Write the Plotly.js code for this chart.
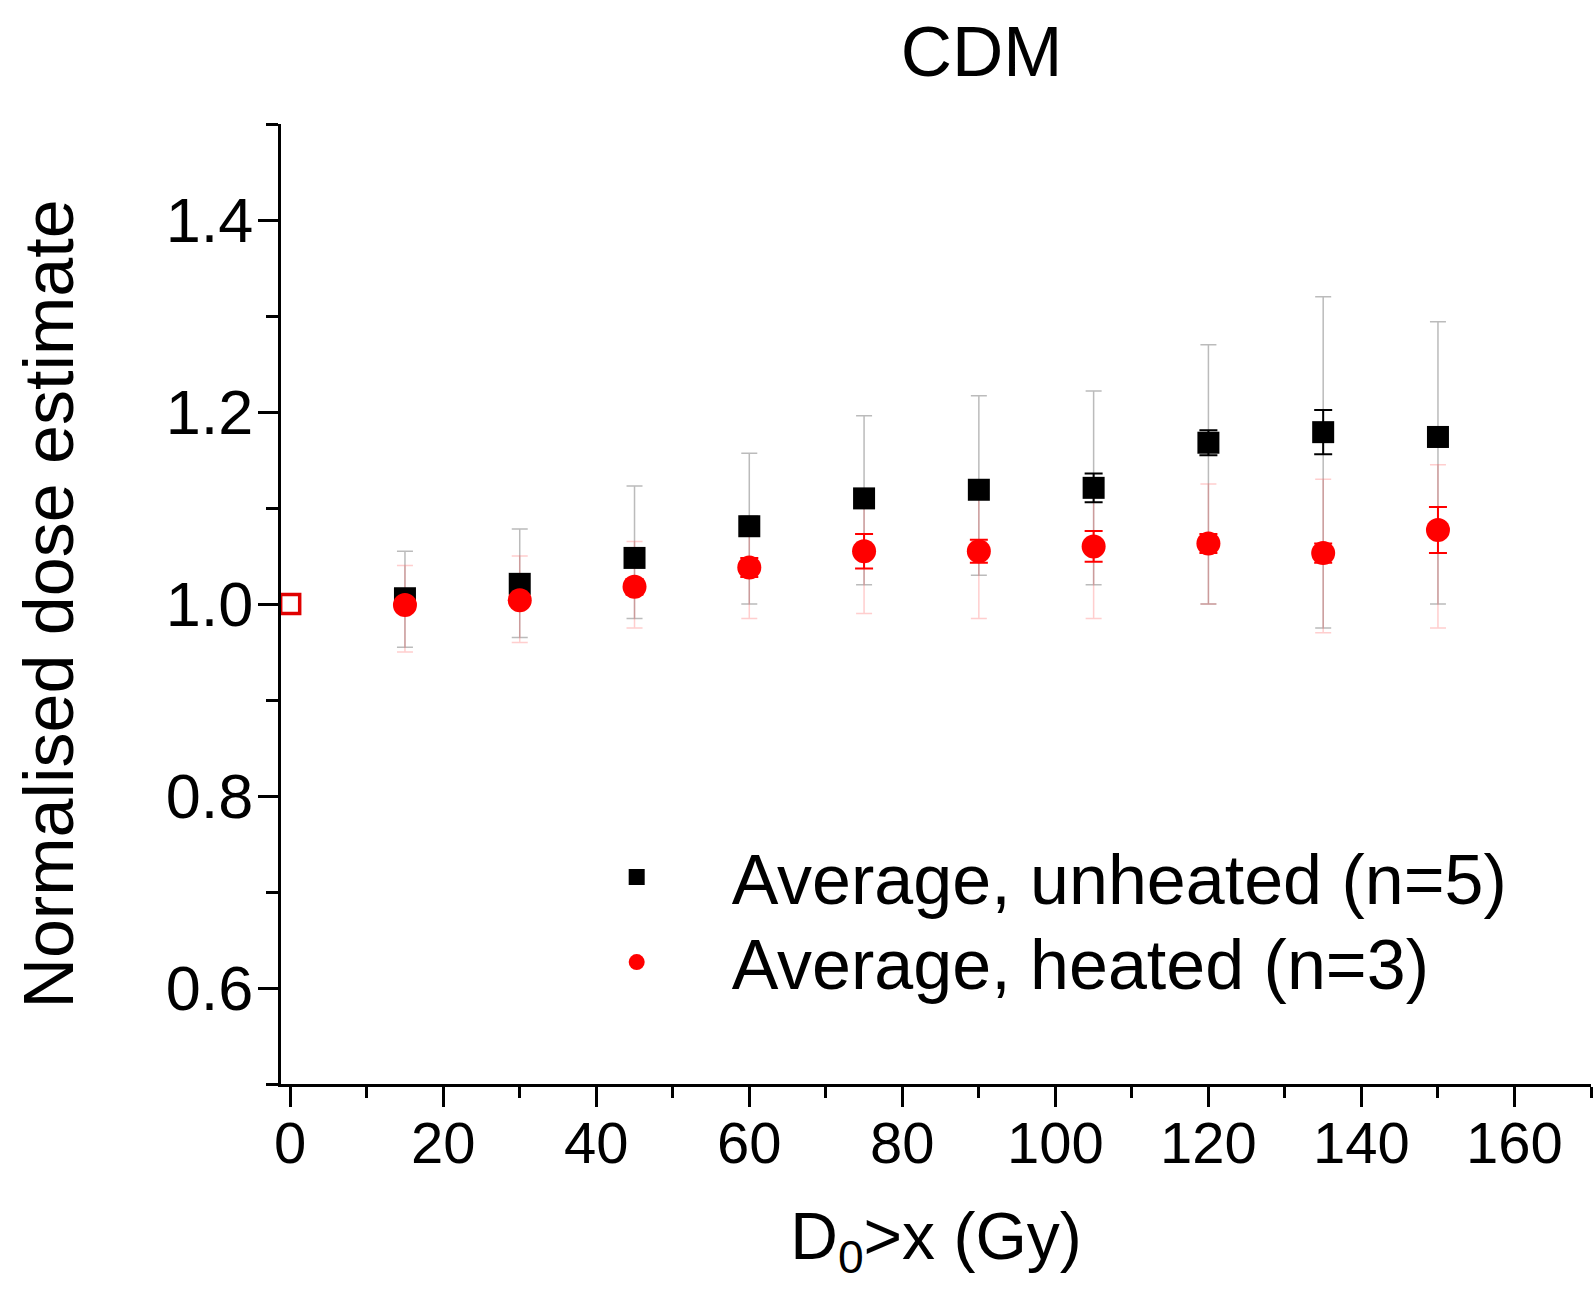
<!DOCTYPE html>
<html>
<head>
<meta charset="utf-8">
<script src="https://cdn.plot.ly/plotly-3.0.1.min.js"></script>
<style>html,body{margin:0;padding:0;background:#fff;}#chart{width:1596px;height:1299px;}</style>
</head>
<body>
<div id="chart"></div>
<script>
// Data
const dose = [15, 30, 45, 60, 75, 90, 105, 120, 135, 150];
const unheatedMean = [1.006, 1.021, 1.048, 1.081, 1.110, 1.119, 1.121, 1.168, 1.179, 1.174];
const unheatedErr  = [0.005, 0.006, 0.008, 0.010, 0.008, 0.008, 0.015, 0.013, 0.023, 0.010];
const unheatedHi   = [1.055, 1.078, 1.123, 1.157, 1.196, 1.217, 1.222, 1.270, 1.320, 1.294];
const unheatedLo   = [0.955, 0.965, 0.985, 1.000, 1.020, 1.030, 1.020, 1.000, 0.975, 1.000];
const heatedMean   = [0.999, 1.004, 1.018, 1.038, 1.055, 1.055, 1.060, 1.063, 1.053, 1.077];
const heatedErr    = [0.006, 0.006, 0.008, 0.010, 0.018, 0.012, 0.016, 0.010, 0.010, 0.024];
const heatedHi     = [1.040, 1.050, 1.065, 1.085, 1.100, 1.110, 1.115, 1.125, 1.130, 1.145];
const heatedLo     = [0.950, 0.960, 0.975, 0.985, 0.990, 0.985, 0.985, 1.000, 0.970, 0.975];
const refDose = [0];
const refValue = [1.0];
const seriesNames = ["Average, unheated (n=5)", "Average, heated (n=3)"];
const xTickVals = [0, 20, 40, 60, 80, 100, 120, 140, 160];
const yTickVals = [0.6, 0.8, 1.0, 1.2, 1.4];

const diff = (a, b) => a.map((v, i) => v - b[i]);
const FONT = "Liberation Sans, Arial, Helvetica, sans-serif";

const traces = [
  { // faint spread of individual unheated samples
    x: dose, y: unheatedMean, type: "scatter", mode: "markers",
    marker: {opacity: 0, size: 1}, showlegend: false, hoverinfo: "skip",
    error_y: {type: "data", symmetric: false, array: diff(unheatedHi, unheatedMean),
              arrayminus: diff(unheatedMean, unheatedLo), color: "rgba(60,60,60,0.35)", thickness: 1.5, width: 8}
  },
  { // faint spread of individual heated samples
    x: dose, y: heatedMean, type: "scatter", mode: "markers",
    marker: {opacity: 0, size: 1}, showlegend: false, hoverinfo: "skip",
    error_y: {type: "data", symmetric: false, array: diff(heatedHi, heatedMean),
              arrayminus: diff(heatedMean, heatedLo), color: "rgba(255,60,60,0.25)", thickness: 1.5, width: 8}
  },
  {
    x: dose, y: unheatedMean, type: "scatter", mode: "markers", name: seriesNames[0], legend: "legend",
    marker: {symbol: "square", size: 22, color: "#000000"},
    error_y: {type: "data", array: unheatedErr, color: "#000000", thickness: 2, width: 9}
  },
  {
    x: dose, y: heatedMean, type: "scatter", mode: "markers", name: seriesNames[1], legend: "legend2",
    marker: {symbol: "circle", size: 24, color: "#ff0000"},
    error_y: {type: "data", array: heatedErr, color: "#ff0000", thickness: 2, width: 9}
  },
  {
    x: refDose, y: refValue, type: "scatter", mode: "markers", showlegend: false,
    marker: {symbol: "square-open", size: 19, color: "#e00000", line: {width: 3.5, color: "#e00000"}}
  }
];

const legendCommon = {
  xanchor: "left", yanchor: "middle", bgcolor: "rgba(0,0,0,0)",
  font: {family: FONT, size: 70, color: "#000"}, itemwidth: 180
};

const layout = {
  width: 1596, height: 1299,
  paper_bgcolor: "#ffffff", plot_bgcolor: "#ffffff",
  margin: {l: 281, r: 5, t: 124, b: 215},
  font: {family: FONT, color: "#000000", size: 60},
  title: {text: "CDM", font: {family: FONT, size: 71, color: "#000"},
          xref: "container", x: 0.615, xanchor: "center",
          yref: "container", y: 0.961, yanchor: "middle"},
  showlegend: true,
  legend: Object.assign({x: 0.199, y: 0.2156}, legendCommon),
  legend2: Object.assign({x: 0.199, y: 0.127}, legendCommon),
  xaxis: {
    range: [-1.2, 170], showgrid: false, zeroline: false,
    showline: true, linecolor: "#000", linewidth: 3, mirror: false,
    tickmode: "array", tickvals: xTickVals, ticks: "outside", ticklen: 20, tickwidth: 3, tickcolor: "#000",
    ticklabelstandoff: -14,
    tickfont: {family: FONT, size: 58, color: "#000"},
    minor: {dtick: 10, tick0: 0, ticks: "outside", ticklen: 11, tickwidth: 3, tickcolor: "#000", showgrid: false},
    title: {text: "D<sub>0</sub>>x (Gy)", font: {family: FONT, size: 66, color: "#000"}, standoff: 40},
    automargin: false
  },
  yaxis: {
    range: [0.5, 1.5], showgrid: false, zeroline: false,
    showline: true, linecolor: "#000", linewidth: 3, mirror: false,
    tickmode: "array", tickvals: yTickVals, ticktext: yTickVals.map(v => v.toFixed(1)),
    ticks: "outside", ticklen: 20, tickwidth: 3, tickcolor: "#000",
    ticklabelstandoff: -8,
    tickfont: {family: FONT, size: 63, color: "#000"},
    minor: {dtick: 0.1, tick0: 0.5, ticks: "outside", ticklen: 12, tickwidth: 3, tickcolor: "#000", showgrid: false},
    title: {text: "Normalised dose estimate", font: {family: FONT, size: 70, color: "#000"}, standoff: 70},
    automargin: false
  }
};

Plotly.newPlot("chart", traces, layout, {displayModeBar: false, staticPlot: true});
</script>
</body>
</html>
